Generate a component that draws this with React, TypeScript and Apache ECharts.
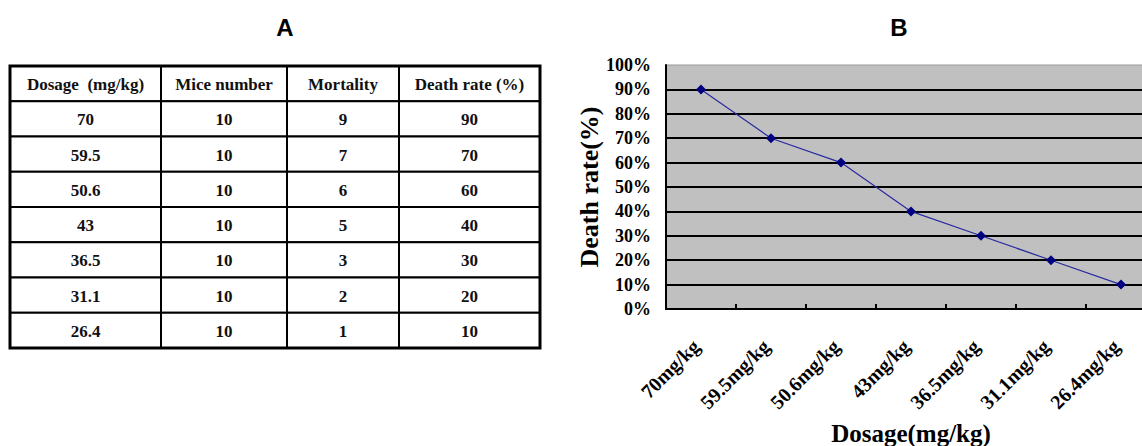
import React, { useEffect, useRef } from "react";
import * as echarts from "echarts";

// ---- data ----
const dosages = ["70", "59.5", "50.6", "43", "36.5", "31.1", "26.4"];
const miceNumbers = [10, 10, 10, 10, 10, 10, 10];
const mortality = [9, 7, 6, 5, 3, 2, 1];
const deathRates = [90, 70, 60, 40, 30, 20, 10];
const tableHeaders = ["Dosage  (mg/kg)", "Mice number", "Mortality", "Death rate (%)"];
const xLabels = dosages.map((d) => d + "mg/kg");
const yTicks = { min: 0, max: 100, interval: 10 };

// ---- layout (px) ----
const colEdges = [0, 151, 277, 389, 530];
const SERIF = '"Liberation Serif", "Times New Roman", serif';
const SANS = '"Liberation Sans", Arial, sans-serif';

const tableRows: string[][] = [
  tableHeaders,
  ...dosages.map((d, i) => [d, String(miceNumbers[i]), String(mortality[i]), String(deathRates[i])]),
];
const cellData: number[][] = [];
const cellText: string[] = [];
tableRows.forEach((row, r) =>
  row.forEach((t, c) => {
    cellData.push([c, r]);
    cellText.push(t);
  })
);

export default function App() {
  const ref = useRef<HTMLDivElement>(null);
  useEffect(() => {
    if (!ref.current) return;
    const chart = echarts.init(ref.current, null, { renderer: "svg" });
    chart.setOption({
      animation: false,
      backgroundColor: "#ffffff",
      graphic: [
        {
          type: "text",
          x: 285,
          y: 27,
          style: { text: "A", font: `bold 24px ${SANS}`, fill: "#000", align: "center", verticalAlign: "middle" },
        },
        {
          type: "text",
          x: 899,
          y: 27,
          style: { text: "B", font: `bold 24px ${SANS}`, fill: "#000", align: "center", verticalAlign: "middle" },
        },
        {
          type: "rect",
          z: 100,
          shape: { x: 10, y: 66, width: 530, height: 282 },
          style: { fill: "none", stroke: "#000", lineWidth: 3 },
        },
      ],
      grid: [
        {
          left: 666,
          top: 65,
          width: 490,
          height: 244,
          show: true,
          backgroundColor: "#c0c0c0",
          borderColor: "#999999",
          borderWidth: 1,
          containLabel: false,
          outerBoundsMode: "none",
        },
        { left: 10, top: 66, width: 530, height: 282, containLabel: false, outerBoundsMode: "none" },
      ],
      xAxis: [
        {
          type: "category",
          gridIndex: 0,
          data: xLabels,
          boundaryGap: true,
          axisLine: { show: true, lineStyle: { color: "#000", width: 2 } },
          axisTick: { show: true, inside: true, length: 5, lineStyle: { color: "#000", width: 2 } },
          axisLabel: {
            rotate: 45,
            interval: 0,
            margin: 29,
            padding: [0, 7, 0, 0],
            color: "#000",
            fontFamily: SERIF,
            fontWeight: "bold",
            fontSize: 20,
          },
          splitLine: { show: false },
          name: "Dosage(mg/kg)",
          nameLocation: "middle",
          nameGap: 111,
          nameTextStyle: { color: "#000", fontFamily: SERIF, fontWeight: "bold", fontSize: 25, lineHeight: 26 },
        },
        { type: "value", gridIndex: 1, min: 0, max: colEdges[colEdges.length - 1], show: false },
      ],
      yAxis: [
        {
          type: "value",
          gridIndex: 0,
          min: yTicks.min,
          max: yTicks.max,
          interval: yTicks.interval,
          axisLine: { show: true, lineStyle: { color: "#000", width: 2 } },
          axisTick: { show: false },
          axisLabel: {
            formatter: "{value}%",
            margin: 15,
            color: "#000",
            fontFamily: SERIF,
            fontWeight: "bold",
            fontSize: 18,
          },
          splitLine: { show: true, showMaxLine: false, lineStyle: { color: "#000", width: 2 } },
          name: "Death rate(%)",
          nameLocation: "middle",
          nameGap: 62,
          nameTextStyle: { color: "#000", fontFamily: SERIF, fontWeight: "bold", fontSize: 26 },
        },
        { type: "value", gridIndex: 1, min: 0, max: tableRows.length, inverse: true, show: false },
      ],
      series: [
        {
          type: "line",
          xAxisIndex: 0,
          yAxisIndex: 0,
          data: deathRates,
          symbol: "diamond",
          symbolSize: 10,
          itemStyle: { color: "#000080" },
          lineStyle: { color: "#2a2aa0", width: 1.2 },
          z: 5,
        },
        {
          type: "custom",
          xAxisIndex: 1,
          yAxisIndex: 1,
          clip: false,
          data: cellData,
          renderItem: (params: any, api: any) => {
            const c = api.value(0);
            const r = api.value(1);
            const p0 = api.coord([colEdges[c], r]);
            const p1 = api.coord([colEdges[c + 1], r + 1]);
            return {
              type: "group",
              children: [
                {
                  type: "rect",
                  shape: { x: p0[0], y: p0[1], width: p1[0] - p0[0], height: p1[1] - p0[1] },
                  style: { fill: "#fff", stroke: "#000", lineWidth: 2 },
                },
                {
                  type: "text",
                  style: {
                    text: cellText[params.dataIndex],
                    x: (p0[0] + p1[0]) / 2,
                    y: (p0[1] + p1[1]) / 2 + 1,
                    align: "center",
                    verticalAlign: "middle",
                    font: `bold 17px ${SERIF}`,
                    fill: "#111",
                  },
                },
              ],
            };
          },
        },
      ],
    });
    return () => chart.dispose();
  }, []);
  return (
    <div
      ref={ref}
      style={{ position: "fixed", left: 0, top: 0, width: 1142, height: 446, overflow: "hidden" }}
    />
  );
}
